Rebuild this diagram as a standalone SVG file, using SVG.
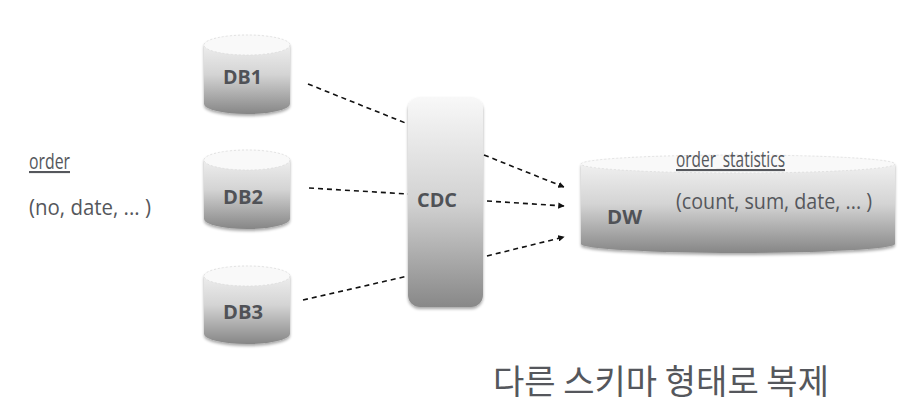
<svg xmlns="http://www.w3.org/2000/svg" width="918" height="413" viewBox="0 0 918 413">
<defs>
<linearGradient id="body" x1="0" y1="0" x2="0" y2="1">
<stop offset="0" stop-color="#f6f6f6"/>
<stop offset="0.5" stop-color="#d4d4d4"/>
<stop offset="1" stop-color="#868686"/>
</linearGradient>
<linearGradient id="cdcg" x1="0" y1="0" x2="0" y2="1">
<stop offset="0" stop-color="#f8f8f8"/>
<stop offset="0.5" stop-color="#d2d2d2"/>
<stop offset="1" stop-color="#888888"/>
</linearGradient>
<marker id="arr" viewBox="0 0 10 10" refX="9" refY="5" markerWidth="4" markerHeight="4" orient="auto">
<path d="M0,0 L10,5 L0,10 z" fill="#111"/>
</marker>
<filter id="sh" x="-10%" y="-10%" width="120%" height="130%">
<feGaussianBlur in="SourceAlpha" stdDeviation="1.5"/>
<feOffset dy="2"/>
<feComponentTransfer><feFuncA type="linear" slope="0.35"/></feComponentTransfer>
<feMerge><feMergeNode/><feMergeNode in="SourceGraphic"/></feMerge>
</filter>
</defs>
<style>
.cyl{fill:url(#body);filter:url(#sh)}
.top{fill:#f9f9f9;stroke:#dcdcdc;stroke-width:0.8;stroke-dasharray:2 2}
.lbl{font-family:"Open Sans","Liberation Sans",sans-serif;font-weight:bold;font-size:19px;fill:#505257}
.txt{font-family:"Open Sans","Liberation Sans",sans-serif;font-size:21px;fill:#55575c}
.con{fill:none;stroke:#111;stroke-width:1.6;stroke-dasharray:5 4}
</style>
<g id="order">
<text class="txt" x="29" y="169" text-decoration="underline" textLength="41" lengthAdjust="spacingAndGlyphs">order</text>
<text class="txt" x="29" y="215" textLength="122" lengthAdjust="spacingAndGlyphs">(no, date, ... )</text>
</g>
<g id="db1">
<path class="cyl" d="M204,45 A43,10 0 0 1 290,45 L290,104 A43,10 0 0 1 204,104 Z"/>
<ellipse class="top" cx="247" cy="45" rx="43" ry="10"/>
<text class="lbl" x="223" y="84" textLength="39" lengthAdjust="spacingAndGlyphs">DB1</text>
</g>
<g id="db2">
<path class="cyl" d="M204,160 A43,10 0 0 1 290,160 L290,219 A43,10 0 0 1 204,219 Z"/>
<ellipse class="top" cx="247" cy="160" rx="43" ry="10"/>
<text class="lbl" x="223" y="204" textLength="40" lengthAdjust="spacingAndGlyphs">DB2</text>
</g>
<g id="db3">
<path class="cyl" d="M204,276 A43,10 0 0 1 290,276 L290,334 A43,10 0 0 1 204,334 Z"/>
<ellipse class="top" cx="247" cy="276" rx="43" ry="10"/>
<text class="lbl" x="223" y="319" textLength="40" lengthAdjust="spacingAndGlyphs">DB3</text>
</g>
<g id="cdc">
<rect x="408" y="97" width="75" height="210" rx="12" fill="url(#cdcg)" filter="url(#sh)"/>
<text class="lbl" x="417" y="207" textLength="40" lengthAdjust="spacingAndGlyphs">CDC</text>
</g>
<g id="dw">
<path class="cyl" d="M581,164 A157,9 0 0 1 895,164 L895,244 A157,9 0 0 1 581,244 Z"/>
<ellipse class="top" cx="738" cy="164" rx="157" ry="9"/>
<text class="lbl" x="607" y="224" textLength="35" lengthAdjust="spacingAndGlyphs">DW</text>
<text class="txt" x="676" y="167" text-decoration="underline" textLength="109" lengthAdjust="spacingAndGlyphs">order_statistics</text>
<text class="txt" x="676" y="209" textLength="196" lengthAdjust="spacingAndGlyphs">(count, sum, date, ... )</text>
</g>
<g id="connectors">
<line class="con" x1="308" y1="84" x2="408" y2="124"/>
<line class="con" x1="309" y1="188" x2="408" y2="194"/>
<line class="con" x1="303" y1="300" x2="408" y2="276"/>
<line class="con" x1="484" y1="155" x2="564" y2="187" marker-end="url(#arr)"/>
<line class="con" x1="487" y1="201" x2="564" y2="206" marker-end="url(#arr)"/>
<line class="con" x1="487" y1="256" x2="564" y2="237" marker-end="url(#arr)"/>
</g>
<text x="493" y="394" font-family="Noto Sans CJK KR, sans-serif" font-size="34" fill="#55575c" textLength="336" lengthAdjust="spacingAndGlyphs">다른 스키마 형태로 복제</text>
</svg>
